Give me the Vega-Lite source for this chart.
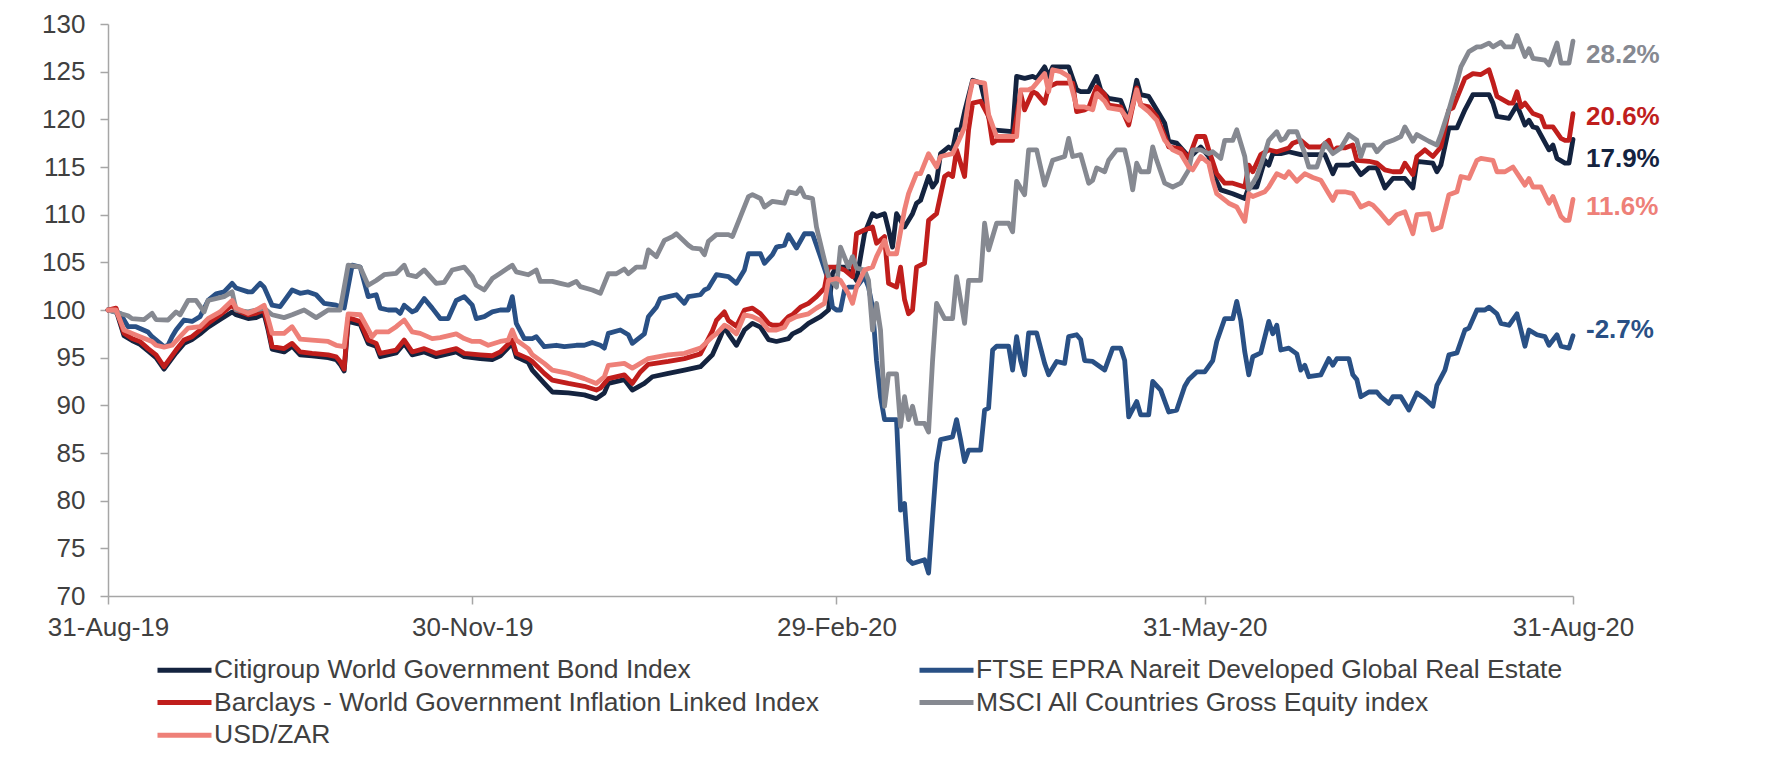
{
"$schema": "https://vega.github.io/schema/vega-lite/v6.json",
"width": 1465, "height": 572,
"autosize": {"type": "none"},
"padding": {"left": 108, "top": 24, "right": 195, "bottom": 167},
"background": "white",
"config": {"view": {"stroke": null}, "font": "Liberation Sans",
 "axis": {"domainColor": "#A6A6A6", "tickColor": "#A6A6A6", "domainWidth": 1.5, "tickWidth": 1.5, "tickSize": 8, "labelColor": "#404040", "labelFontSize": 26, "labelFont": "Liberation Sans", "grid": false, "title": null}},
"datasets": {
"names": [
 {"k": "A", "name": "Citigroup World Government Bond Index"},
 {"k": "B", "name": "FTSE EPRA Nareit Developed Global Real Estate"},
 {"k": "C", "name": "Barclays - World Government Inflation Linked Index"},
 {"k": "D", "name": "MSCI All Countries Gross Equity index"},
 {"k": "E", "name": "USD/ZAR"}
],
"labels": [
 {"k": "D", "d": "2020-08-31", "at": 126.8, "t": "28.2%"},
 {"k": "C", "d": "2020-08-31", "at": 120.2, "t": "20.6%"},
 {"k": "A", "d": "2020-08-31", "at": 115.8, "t": "17.9%"},
 {"k": "E", "d": "2020-08-31", "at": 110.8, "t": "11.6%"},
 {"k": "B", "d": "2020-08-31", "at": 97.9, "t": "-2.7%"}
],
"series": [
{"k":"A","d":"2019-08-31","v":100},{"k":"A","d":"2019-09-02","v":100},{"k":"A","d":"2019-09-04","v":97.3},{"k":"A","d":"2019-09-06","v":96.8},{"k":"A","d":"2019-09-08","v":96.4},{"k":"A","d":"2019-09-10","v":95.7},{"k":"A","d":"2019-09-12","v":95.0},{"k":"A","d":"2019-09-14","v":93.8},{"k":"A","d":"2019-09-17","v":95.5},{"k":"A","d":"2019-09-19","v":96.5},{"k":"A","d":"2019-09-21","v":96.9},{"k":"A","d":"2019-09-23","v":97.5},{"k":"A","d":"2019-09-25","v":98.2},{"k":"A","d":"2019-09-28","v":99.0},{"k":"A","d":"2019-10-01","v":99.8},{"k":"A","d":"2019-10-02","v":99.5},{"k":"A","d":"2019-10-05","v":99.1},{"k":"A","d":"2019-10-07","v":99.2},{"k":"A","d":"2019-10-09","v":99.6},{"k":"A","d":"2019-10-10","v":97.9},{"k":"A","d":"2019-10-11","v":95.9},{"k":"A","d":"2019-10-14","v":95.6},{"k":"A","d":"2019-10-16","v":96.2},{"k":"A","d":"2019-10-18","v":95.3},{"k":"A","d":"2019-10-21","v":95.2},{"k":"A","d":"2019-10-25","v":95.0},{"k":"A","d":"2019-10-27","v":94.8},{"k":"A","d":"2019-10-28","v":94.3},{"k":"A","d":"2019-10-29","v":93.6},{"k":"A","d":"2019-10-30","v":98.8},{"k":"A","d":"2019-11-02","v":98.5},{"k":"A","d":"2019-11-04","v":96.5},{"k":"A","d":"2019-11-06","v":96.2},{"k":"A","d":"2019-11-07","v":95.1},{"k":"A","d":"2019-11-11","v":95.5},{"k":"A","d":"2019-11-13","v":96.5},{"k":"A","d":"2019-11-15","v":95.3},{"k":"A","d":"2019-11-18","v":95.6},{"k":"A","d":"2019-11-21","v":95.1},{"k":"A","d":"2019-11-26","v":95.6},{"k":"A","d":"2019-11-28","v":95.1},{"k":"A","d":"2019-12-02","v":94.9},{"k":"A","d":"2019-12-05","v":94.8},{"k":"A","d":"2019-12-07","v":95.2},{"k":"A","d":"2019-12-10","v":96.5},{"k":"A","d":"2019-12-11","v":95.1},{"k":"A","d":"2019-12-14","v":94.5},{"k":"A","d":"2019-12-15","v":93.7},{"k":"A","d":"2019-12-18","v":92.3},{"k":"A","d":"2019-12-20","v":91.4},{"k":"A","d":"2019-12-24","v":91.3},{"k":"A","d":"2019-12-28","v":91.1},{"k":"A","d":"2019-12-31","v":90.7},{"k":"A","d":"2020-01-02","v":91.3},{"k":"A","d":"2020-01-03","v":92.3},{"k":"A","d":"2020-01-07","v":92.7},{"k":"A","d":"2020-01-09","v":91.6},{"k":"A","d":"2020-01-12","v":92.3},{"k":"A","d":"2020-01-14","v":93.0},{"k":"A","d":"2020-01-18","v":93.35},{"k":"A","d":"2020-01-22","v":93.7},{"k":"A","d":"2020-01-26","v":94.05},{"k":"A","d":"2020-01-29","v":95.3},{"k":"A","d":"2020-01-31","v":97.2},{"k":"A","d":"2020-02-01","v":98.2},{"k":"A","d":"2020-02-02","v":97.5},{"k":"A","d":"2020-02-04","v":96.3},{"k":"A","d":"2020-02-06","v":97.9},{"k":"A","d":"2020-02-08","v":98.6},{"k":"A","d":"2020-02-10","v":98.2},{"k":"A","d":"2020-02-12","v":96.9},{"k":"A","d":"2020-02-14","v":96.7},{"k":"A","d":"2020-02-17","v":97.0},{"k":"A","d":"2020-02-18","v":97.5},{"k":"A","d":"2020-02-20","v":97.9},{"k":"A","d":"2020-02-22","v":98.6},{"k":"A","d":"2020-02-25","v":99.3},{"k":"A","d":"2020-02-27","v":100.0},{"k":"A","d":"2020-02-28","v":103.8},{"k":"A","d":"2020-02-29","v":104.5},{"k":"A","d":"2020-03-02","v":104.5},{"k":"A","d":"2020-03-04","v":103.8},{"k":"A","d":"2020-03-05","v":103.1},{"k":"A","d":"2020-03-07","v":108.0},{"k":"A","d":"2020-03-09","v":110.1},{"k":"A","d":"2020-03-10","v":109.8},{"k":"A","d":"2020-03-12","v":110.1},{"k":"A","d":"2020-03-13","v":108.4},{"k":"A","d":"2020-03-14","v":106.6},{"k":"A","d":"2020-03-15","v":110.1},{"k":"A","d":"2020-03-17","v":108.7},{"k":"A","d":"2020-03-19","v":110.1},{"k":"A","d":"2020-03-20","v":111.2},{"k":"A","d":"2020-03-21","v":111.5},{"k":"A","d":"2020-03-23","v":114.0},{"k":"A","d":"2020-03-24","v":112.9},{"k":"A","d":"2020-03-25","v":113.5},{"k":"A","d":"2020-03-26","v":116.4},{"k":"A","d":"2020-03-28","v":117.1},{"k":"A","d":"2020-03-29","v":116.8},{"k":"A","d":"2020-03-30","v":118.9},{"k":"A","d":"2020-03-31","v":118.9},{"k":"A","d":"2020-04-01","v":120.8},{"k":"A","d":"2020-04-03","v":124.1},{"k":"A","d":"2020-04-05","v":123.8},{"k":"A","d":"2020-04-07","v":120.3},{"k":"A","d":"2020-04-08","v":118.9},{"k":"A","d":"2020-04-13","v":118.7},{"k":"A","d":"2020-04-14","v":124.5},{"k":"A","d":"2020-04-16","v":124.3},{"k":"A","d":"2020-04-18","v":124.5},{"k":"A","d":"2020-04-19","v":124.3},{"k":"A","d":"2020-04-21","v":125.5},{"k":"A","d":"2020-04-22","v":124.5},{"k":"A","d":"2020-04-23","v":125.5},{"k":"A","d":"2020-04-27","v":125.5},{"k":"A","d":"2020-04-29","v":123.1},{"k":"A","d":"2020-04-30","v":122.9},{"k":"A","d":"2020-05-02","v":122.9},{"k":"A","d":"2020-05-04","v":124.5},{"k":"A","d":"2020-05-05","v":123.1},{"k":"A","d":"2020-05-07","v":122.2},{"k":"A","d":"2020-05-10","v":122.0},{"k":"A","d":"2020-05-12","v":119.9},{"k":"A","d":"2020-05-14","v":124.1},{"k":"A","d":"2020-05-15","v":122.6},{"k":"A","d":"2020-05-17","v":122.4},{"k":"A","d":"2020-05-19","v":121.0},{"k":"A","d":"2020-05-21","v":119.6},{"k":"A","d":"2020-05-22","v":117.7},{"k":"A","d":"2020-05-24","v":117.5},{"k":"A","d":"2020-05-27","v":116.1},{"k":"A","d":"2020-05-28","v":116.3},{"k":"A","d":"2020-05-30","v":117.1},{"k":"A","d":"2020-06-01","v":116.1},{"k":"A","d":"2020-06-02","v":114.3},{"k":"A","d":"2020-06-04","v":112.6},{"k":"A","d":"2020-06-07","v":112.2},{"k":"A","d":"2020-06-10","v":111.7},{"k":"A","d":"2020-06-11","v":112.9},{"k":"A","d":"2020-06-13","v":112.9},{"k":"A","d":"2020-06-15","v":115.7},{"k":"A","d":"2020-06-16","v":115.2},{"k":"A","d":"2020-06-17","v":116.4},{"k":"A","d":"2020-06-19","v":116.4},{"k":"A","d":"2020-06-21","v":116.6},{"k":"A","d":"2020-06-24","v":116.3},{"k":"A","d":"2020-06-28","v":116.3},{"k":"A","d":"2020-06-30","v":116.3},{"k":"A","d":"2020-07-02","v":114.3},{"k":"A","d":"2020-07-03","v":115.2},{"k":"A","d":"2020-07-06","v":115.2},{"k":"A","d":"2020-07-07","v":115.4},{"k":"A","d":"2020-07-09","v":114.2},{"k":"A","d":"2020-07-11","v":114.9},{"k":"A","d":"2020-07-13","v":114.9},{"k":"A","d":"2020-07-15","v":112.8},{"k":"A","d":"2020-07-17","v":113.8},{"k":"A","d":"2020-07-20","v":113.8},{"k":"A","d":"2020-07-22","v":112.8},{"k":"A","d":"2020-07-23","v":115.6},{"k":"A","d":"2020-07-27","v":115.4},{"k":"A","d":"2020-07-28","v":114.5},{"k":"A","d":"2020-07-29","v":115.2},{"k":"A","d":"2020-07-31","v":119.1},{"k":"A","d":"2020-08-02","v":119.1},{"k":"A","d":"2020-08-04","v":121.0},{"k":"A","d":"2020-08-06","v":122.6},{"k":"A","d":"2020-08-10","v":122.6},{"k":"A","d":"2020-08-11","v":121.7},{"k":"A","d":"2020-08-12","v":120.3},{"k":"A","d":"2020-08-15","v":120.1},{"k":"A","d":"2020-08-17","v":121.5},{"k":"A","d":"2020-08-19","v":119.4},{"k":"A","d":"2020-08-20","v":119.9},{"k":"A","d":"2020-08-21","v":119.2},{"k":"A","d":"2020-08-22","v":119.1},{"k":"A","d":"2020-08-25","v":116.8},{"k":"A","d":"2020-08-26","v":117.3},{"k":"A","d":"2020-08-27","v":115.9},{"k":"A","d":"2020-08-29","v":115.4},{"k":"A","d":"2020-08-30","v":115.4},{"k":"A","d":"2020-08-31","v":117.9},
{"k":"B","d":"2019-08-31","v":100},{"k":"B","d":"2019-09-03","v":99.65},{"k":"B","d":"2019-09-05","v":98.25},{"k":"B","d":"2019-09-07","v":98.25},{"k":"B","d":"2019-09-10","v":97.7},{"k":"B","d":"2019-09-11","v":97.2},{"k":"B","d":"2019-09-14","v":96.15},{"k":"B","d":"2019-09-15","v":96.3},{"k":"B","d":"2019-09-16","v":97.2},{"k":"B","d":"2019-09-17","v":97.9},{"k":"B","d":"2019-09-19","v":98.95},{"k":"B","d":"2019-09-21","v":98.8},{"k":"B","d":"2019-09-23","v":99.3},{"k":"B","d":"2019-09-25","v":101.0},{"k":"B","d":"2019-09-27","v":101.7},{"k":"B","d":"2019-09-29","v":101.9},{"k":"B","d":"2019-10-01","v":102.8},{"k":"B","d":"2019-10-02","v":102.3},{"k":"B","d":"2019-10-05","v":101.9},{"k":"B","d":"2019-10-06","v":101.9},{"k":"B","d":"2019-10-08","v":102.8},{"k":"B","d":"2019-10-09","v":102.4},{"k":"B","d":"2019-10-11","v":100.5},{"k":"B","d":"2019-10-13","v":100.35},{"k":"B","d":"2019-10-16","v":102.1},{"k":"B","d":"2019-10-18","v":101.75},{"k":"B","d":"2019-10-20","v":101.9},{"k":"B","d":"2019-10-22","v":101.6},{"k":"B","d":"2019-10-24","v":100.7},{"k":"B","d":"2019-10-27","v":100.5},{"k":"B","d":"2019-10-29","v":100.2},{"k":"B","d":"2019-10-31","v":104.7},{"k":"B","d":"2019-11-02","v":104.5},{"k":"B","d":"2019-11-04","v":101.4},{"k":"B","d":"2019-11-06","v":101.6},{"k":"B","d":"2019-11-07","v":100.2},{"k":"B","d":"2019-11-09","v":100.0},{"k":"B","d":"2019-11-11","v":100.0},{"k":"B","d":"2019-11-12","v":99.65},{"k":"B","d":"2019-11-13","v":100.5},{"k":"B","d":"2019-11-15","v":99.8},{"k":"B","d":"2019-11-16","v":100.0},{"k":"B","d":"2019-11-18","v":101.2},{"k":"B","d":"2019-11-20","v":100.2},{"k":"B","d":"2019-11-22","v":99.1},{"k":"B","d":"2019-11-24","v":99.1},{"k":"B","d":"2019-11-26","v":101.0},{"k":"B","d":"2019-11-28","v":101.4},{"k":"B","d":"2019-11-30","v":100.5},{"k":"B","d":"2019-12-01","v":99.1},{"k":"B","d":"2019-12-03","v":99.3},{"k":"B","d":"2019-12-05","v":99.8},{"k":"B","d":"2019-12-07","v":100.0},{"k":"B","d":"2019-12-09","v":100.0},{"k":"B","d":"2019-12-10","v":101.4},{"k":"B","d":"2019-12-11","v":98.6},{"k":"B","d":"2019-12-13","v":97.0},{"k":"B","d":"2019-12-15","v":97.0},{"k":"B","d":"2019-12-16","v":97.2},{"k":"B","d":"2019-12-18","v":96.15},{"k":"B","d":"2019-12-21","v":96.3},{"k":"B","d":"2019-12-23","v":96.15},{"k":"B","d":"2019-12-26","v":96.3},{"k":"B","d":"2019-12-28","v":96.3},{"k":"B","d":"2019-12-30","v":96.6},{"k":"B","d":"2020-01-01","v":96.3},{"k":"B","d":"2020-01-02","v":96.0},{"k":"B","d":"2020-01-03","v":97.55},{"k":"B","d":"2020-01-06","v":97.9},{"k":"B","d":"2020-01-08","v":97.4},{"k":"B","d":"2020-01-09","v":96.5},{"k":"B","d":"2020-01-12","v":97.5},{"k":"B","d":"2020-01-13","v":99.3},{"k":"B","d":"2020-01-15","v":100.3},{"k":"B","d":"2020-01-16","v":101.2},{"k":"B","d":"2020-01-18","v":101.4},{"k":"B","d":"2020-01-20","v":101.6},{"k":"B","d":"2020-01-22","v":100.7},{"k":"B","d":"2020-01-23","v":101.4},{"k":"B","d":"2020-01-26","v":101.6},{"k":"B","d":"2020-01-27","v":102.1},{"k":"B","d":"2020-01-28","v":102.3},{"k":"B","d":"2020-01-30","v":103.7},{"k":"B","d":"2020-02-02","v":103.5},{"k":"B","d":"2020-02-04","v":102.8},{"k":"B","d":"2020-02-06","v":104.2},{"k":"B","d":"2020-02-07","v":105.9},{"k":"B","d":"2020-02-10","v":105.9},{"k":"B","d":"2020-02-11","v":104.9},{"k":"B","d":"2020-02-13","v":105.8},{"k":"B","d":"2020-02-14","v":106.6},{"k":"B","d":"2020-02-16","v":106.8},{"k":"B","d":"2020-02-17","v":107.9},{"k":"B","d":"2020-02-19","v":106.5},{"k":"B","d":"2020-02-21","v":108.0},{"k":"B","d":"2020-02-23","v":108.0},{"k":"B","d":"2020-02-25","v":105.6},{"k":"B","d":"2020-02-27","v":103.1},{"k":"B","d":"2020-02-28","v":100.3},{"k":"B","d":"2020-02-29","v":100.0},{"k":"B","d":"2020-03-01","v":100.0},{"k":"B","d":"2020-03-02","v":102.1},{"k":"B","d":"2020-03-03","v":102.4},{"k":"B","d":"2020-03-05","v":102.4},{"k":"B","d":"2020-03-07","v":103.5},{"k":"B","d":"2020-03-08","v":102.4},{"k":"B","d":"2020-03-09","v":100.3},{"k":"B","d":"2020-03-10","v":94.7},{"k":"B","d":"2020-03-11","v":90.9},{"k":"B","d":"2020-03-12","v":88.5},{"k":"B","d":"2020-03-15","v":88.5},{"k":"B","d":"2020-03-16","v":79.0},{"k":"B","d":"2020-03-17","v":79.7},{"k":"B","d":"2020-03-18","v":73.8},{"k":"B","d":"2020-03-19","v":73.4},{"k":"B","d":"2020-03-22","v":73.8},{"k":"B","d":"2020-03-23","v":72.4},{"k":"B","d":"2020-03-24","v":78.3},{"k":"B","d":"2020-03-25","v":83.9},{"k":"B","d":"2020-03-26","v":86.4},{"k":"B","d":"2020-03-29","v":86.7},{"k":"B","d":"2020-03-30","v":88.5},{"k":"B","d":"2020-03-31","v":86.4},{"k":"B","d":"2020-04-01","v":84.1},{"k":"B","d":"2020-04-02","v":85.3},{"k":"B","d":"2020-04-05","v":85.3},{"k":"B","d":"2020-04-06","v":89.5},{"k":"B","d":"2020-04-07","v":89.7},{"k":"B","d":"2020-04-08","v":95.8},{"k":"B","d":"2020-04-09","v":96.2},{"k":"B","d":"2020-04-12","v":96.2},{"k":"B","d":"2020-04-13","v":93.7},{"k":"B","d":"2020-04-14","v":97.2},{"k":"B","d":"2020-04-15","v":94.7},{"k":"B","d":"2020-04-16","v":93.2},{"k":"B","d":"2020-04-17","v":97.6},{"k":"B","d":"2020-04-19","v":97.6},{"k":"B","d":"2020-04-21","v":94.4},{"k":"B","d":"2020-04-22","v":93.2},{"k":"B","d":"2020-04-24","v":94.6},{"k":"B","d":"2020-04-26","v":94.4},{"k":"B","d":"2020-04-27","v":97.2},{"k":"B","d":"2020-04-29","v":97.4},{"k":"B","d":"2020-04-30","v":96.9},{"k":"B","d":"2020-05-01","v":94.7},{"k":"B","d":"2020-05-03","v":94.6},{"k":"B","d":"2020-05-06","v":93.7},{"k":"B","d":"2020-05-08","v":96.0},{"k":"B","d":"2020-05-10","v":96.0},{"k":"B","d":"2020-05-11","v":94.7},{"k":"B","d":"2020-05-12","v":88.8},{"k":"B","d":"2020-05-14","v":90.4},{"k":"B","d":"2020-05-15","v":89.0},{"k":"B","d":"2020-05-17","v":89.0},{"k":"B","d":"2020-05-18","v":92.5},{"k":"B","d":"2020-05-20","v":91.6},{"k":"B","d":"2020-05-22","v":89.3},{"k":"B","d":"2020-05-24","v":89.5},{"k":"B","d":"2020-05-26","v":92.0},{"k":"B","d":"2020-05-27","v":92.7},{"k":"B","d":"2020-05-29","v":93.5},{"k":"B","d":"2020-05-31","v":93.5},{"k":"B","d":"2020-06-02","v":94.7},{"k":"B","d":"2020-06-03","v":96.7},{"k":"B","d":"2020-06-05","v":99.1},{"k":"B","d":"2020-06-07","v":99.1},{"k":"B","d":"2020-06-08","v":100.9},{"k":"B","d":"2020-06-09","v":98.9},{"k":"B","d":"2020-06-10","v":95.6},{"k":"B","d":"2020-06-11","v":93.2},{"k":"B","d":"2020-06-12","v":95.1},{"k":"B","d":"2020-06-14","v":95.5},{"k":"B","d":"2020-06-16","v":98.8},{"k":"B","d":"2020-06-17","v":97.5},{"k":"B","d":"2020-06-18","v":98.4},{"k":"B","d":"2020-06-19","v":95.8},{"k":"B","d":"2020-06-21","v":96.0},{"k":"B","d":"2020-06-23","v":95.4},{"k":"B","d":"2020-06-24","v":93.7},{"k":"B","d":"2020-06-25","v":94.2},{"k":"B","d":"2020-06-26","v":93.0},{"k":"B","d":"2020-06-29","v":93.2},{"k":"B","d":"2020-07-01","v":94.9},{"k":"B","d":"2020-07-02","v":94.2},{"k":"B","d":"2020-07-03","v":94.9},{"k":"B","d":"2020-07-06","v":94.9},{"k":"B","d":"2020-07-07","v":93.2},{"k":"B","d":"2020-07-08","v":92.7},{"k":"B","d":"2020-07-09","v":90.9},{"k":"B","d":"2020-07-11","v":91.4},{"k":"B","d":"2020-07-13","v":91.4},{"k":"B","d":"2020-07-14","v":90.9},{"k":"B","d":"2020-07-16","v":90.2},{"k":"B","d":"2020-07-17","v":90.9},{"k":"B","d":"2020-07-19","v":90.9},{"k":"B","d":"2020-07-21","v":89.5},{"k":"B","d":"2020-07-23","v":91.3},{"k":"B","d":"2020-07-25","v":90.7},{"k":"B","d":"2020-07-27","v":89.9},{"k":"B","d":"2020-07-28","v":92.1},{"k":"B","d":"2020-07-30","v":93.7},{"k":"B","d":"2020-07-31","v":95.3},{"k":"B","d":"2020-08-02","v":95.5},{"k":"B","d":"2020-08-04","v":97.9},{"k":"B","d":"2020-08-05","v":98.1},{"k":"B","d":"2020-08-07","v":100.0},{"k":"B","d":"2020-08-09","v":100.0},{"k":"B","d":"2020-08-10","v":100.3},{"k":"B","d":"2020-08-12","v":99.6},{"k":"B","d":"2020-08-13","v":98.6},{"k":"B","d":"2020-08-15","v":98.4},{"k":"B","d":"2020-08-17","v":99.6},{"k":"B","d":"2020-08-18","v":97.9},{"k":"B","d":"2020-08-19","v":96.2},{"k":"B","d":"2020-08-20","v":97.9},{"k":"B","d":"2020-08-22","v":97.4},{"k":"B","d":"2020-08-24","v":97.2},{"k":"B","d":"2020-08-25","v":96.3},{"k":"B","d":"2020-08-27","v":97.4},{"k":"B","d":"2020-08-28","v":96.2},{"k":"B","d":"2020-08-30","v":96.0},{"k":"B","d":"2020-08-31","v":97.3},
{"k":"C","d":"2019-08-31","v":100},{"k":"C","d":"2019-09-02","v":100.2},{"k":"C","d":"2019-09-04","v":97.55},{"k":"C","d":"2019-09-06","v":97.0},{"k":"C","d":"2019-09-08","v":96.7},{"k":"C","d":"2019-09-10","v":95.95},{"k":"C","d":"2019-09-12","v":95.3},{"k":"C","d":"2019-09-14","v":94.05},{"k":"C","d":"2019-09-17","v":95.8},{"k":"C","d":"2019-09-19","v":96.85},{"k":"C","d":"2019-09-21","v":97.2},{"k":"C","d":"2019-09-23","v":97.9},{"k":"C","d":"2019-09-25","v":98.6},{"k":"C","d":"2019-09-28","v":99.5},{"k":"C","d":"2019-10-01","v":100.5},{"k":"C","d":"2019-10-02","v":100.0},{"k":"C","d":"2019-10-05","v":99.5},{"k":"C","d":"2019-10-07","v":99.65},{"k":"C","d":"2019-10-09","v":100.0},{"k":"C","d":"2019-10-10","v":98.25},{"k":"C","d":"2019-10-11","v":96.15},{"k":"C","d":"2019-10-14","v":95.95},{"k":"C","d":"2019-10-16","v":96.5},{"k":"C","d":"2019-10-18","v":95.6},{"k":"C","d":"2019-10-21","v":95.45},{"k":"C","d":"2019-10-25","v":95.3},{"k":"C","d":"2019-10-27","v":95.1},{"k":"C","d":"2019-10-28","v":94.6},{"k":"C","d":"2019-10-29","v":93.8},{"k":"C","d":"2019-10-30","v":99.2},{"k":"C","d":"2019-11-02","v":98.8},{"k":"C","d":"2019-11-04","v":96.85},{"k":"C","d":"2019-11-06","v":96.5},{"k":"C","d":"2019-11-07","v":95.45},{"k":"C","d":"2019-11-11","v":95.8},{"k":"C","d":"2019-11-13","v":96.85},{"k":"C","d":"2019-11-15","v":95.6},{"k":"C","d":"2019-11-18","v":95.95},{"k":"C","d":"2019-11-21","v":95.45},{"k":"C","d":"2019-11-26","v":95.95},{"k":"C","d":"2019-11-28","v":95.45},{"k":"C","d":"2019-12-02","v":95.3},{"k":"C","d":"2019-12-05","v":95.2},{"k":"C","d":"2019-12-07","v":95.6},{"k":"C","d":"2019-12-10","v":96.85},{"k":"C","d":"2019-12-11","v":95.45},{"k":"C","d":"2019-12-14","v":94.9},{"k":"C","d":"2019-12-15","v":94.6},{"k":"C","d":"2019-12-18","v":93.35},{"k":"C","d":"2019-12-20","v":92.65},{"k":"C","d":"2019-12-24","v":92.3},{"k":"C","d":"2019-12-28","v":92.0},{"k":"C","d":"2019-12-31","v":91.6},{"k":"C","d":"2020-01-01","v":91.8},{"k":"C","d":"2020-01-03","v":92.8},{"k":"C","d":"2020-01-07","v":93.2},{"k":"C","d":"2020-01-09","v":92.3},{"k":"C","d":"2020-01-11","v":93.5},{"k":"C","d":"2020-01-13","v":94.3},{"k":"C","d":"2020-01-18","v":94.6},{"k":"C","d":"2020-01-22","v":94.9},{"k":"C","d":"2020-01-26","v":95.4},{"k":"C","d":"2020-01-28","v":97.0},{"k":"C","d":"2020-01-29","v":97.8},{"k":"C","d":"2020-01-30","v":98.9},{"k":"C","d":"2020-02-01","v":99.8},{"k":"C","d":"2020-02-02","v":98.9},{"k":"C","d":"2020-02-04","v":98.3},{"k":"C","d":"2020-02-06","v":100.0},{"k":"C","d":"2020-02-08","v":100.2},{"k":"C","d":"2020-02-10","v":99.6},{"k":"C","d":"2020-02-12","v":98.6},{"k":"C","d":"2020-02-13","v":98.4},{"k":"C","d":"2020-02-15","v":98.4},{"k":"C","d":"2020-02-17","v":99.3},{"k":"C","d":"2020-02-18","v":99.5},{"k":"C","d":"2020-02-20","v":100.3},{"k":"C","d":"2020-02-22","v":100.7},{"k":"C","d":"2020-02-24","v":101.4},{"k":"C","d":"2020-02-26","v":102.3},{"k":"C","d":"2020-02-27","v":104.5},{"k":"C","d":"2020-02-29","v":104.5},{"k":"C","d":"2020-03-02","v":104.2},{"k":"C","d":"2020-03-04","v":103.5},{"k":"C","d":"2020-03-05","v":108.0},{"k":"C","d":"2020-03-07","v":108.4},{"k":"C","d":"2020-03-09","v":108.7},{"k":"C","d":"2020-03-10","v":107.0},{"k":"C","d":"2020-03-12","v":107.7},{"k":"C","d":"2020-03-13","v":102.8},{"k":"C","d":"2020-03-15","v":102.4},{"k":"C","d":"2020-03-16","v":104.5},{"k":"C","d":"2020-03-17","v":101.1},{"k":"C","d":"2020-03-18","v":99.6},{"k":"C","d":"2020-03-19","v":100.0},{"k":"C","d":"2020-03-20","v":104.5},{"k":"C","d":"2020-03-22","v":104.9},{"k":"C","d":"2020-03-23","v":109.4},{"k":"C","d":"2020-03-25","v":110.1},{"k":"C","d":"2020-03-27","v":114.0},{"k":"C","d":"2020-03-28","v":114.3},{"k":"C","d":"2020-03-29","v":114.0},{"k":"C","d":"2020-03-30","v":116.8},{"k":"C","d":"2020-04-01","v":114.0},{"k":"C","d":"2020-04-02","v":118.9},{"k":"C","d":"2020-04-03","v":121.7},{"k":"C","d":"2020-04-05","v":121.9},{"k":"C","d":"2020-04-07","v":120.3},{"k":"C","d":"2020-04-08","v":117.5},{"k":"C","d":"2020-04-09","v":117.8},{"k":"C","d":"2020-04-13","v":117.8},{"k":"C","d":"2020-04-15","v":122.7},{"k":"C","d":"2020-04-16","v":121.0},{"k":"C","d":"2020-04-18","v":122.9},{"k":"C","d":"2020-04-19","v":122.7},{"k":"C","d":"2020-04-21","v":121.7},{"k":"C","d":"2020-04-22","v":123.4},{"k":"C","d":"2020-04-24","v":123.8},{"k":"C","d":"2020-04-28","v":123.8},{"k":"C","d":"2020-04-29","v":120.8},{"k":"C","d":"2020-05-01","v":121.0},{"k":"C","d":"2020-05-02","v":121.2},{"k":"C","d":"2020-05-04","v":123.4},{"k":"C","d":"2020-05-06","v":122.6},{"k":"C","d":"2020-05-07","v":121.5},{"k":"C","d":"2020-05-10","v":121.3},{"k":"C","d":"2020-05-12","v":119.4},{"k":"C","d":"2020-05-14","v":123.3},{"k":"C","d":"2020-05-15","v":121.5},{"k":"C","d":"2020-05-17","v":121.3},{"k":"C","d":"2020-05-19","v":120.3},{"k":"C","d":"2020-05-21","v":118.2},{"k":"C","d":"2020-05-22","v":117.1},{"k":"C","d":"2020-05-25","v":116.9},{"k":"C","d":"2020-05-27","v":115.9},{"k":"C","d":"2020-05-29","v":118.2},{"k":"C","d":"2020-05-31","v":118.2},{"k":"C","d":"2020-06-01","v":116.8},{"k":"C","d":"2020-06-03","v":114.3},{"k":"C","d":"2020-06-05","v":113.3},{"k":"C","d":"2020-06-07","v":113.3},{"k":"C","d":"2020-06-10","v":112.9},{"k":"C","d":"2020-06-11","v":115.2},{"k":"C","d":"2020-06-12","v":114.5},{"k":"C","d":"2020-06-14","v":116.3},{"k":"C","d":"2020-06-16","v":116.8},{"k":"C","d":"2020-06-18","v":116.6},{"k":"C","d":"2020-06-21","v":117.0},{"k":"C","d":"2020-06-22","v":117.5},{"k":"C","d":"2020-06-24","v":117.8},{"k":"C","d":"2020-06-26","v":117.1},{"k":"C","d":"2020-06-29","v":117.1},{"k":"C","d":"2020-07-01","v":117.8},{"k":"C","d":"2020-07-02","v":116.6},{"k":"C","d":"2020-07-03","v":117.0},{"k":"C","d":"2020-07-05","v":117.0},{"k":"C","d":"2020-07-07","v":117.3},{"k":"C","d":"2020-07-08","v":115.7},{"k":"C","d":"2020-07-11","v":115.6},{"k":"C","d":"2020-07-13","v":115.4},{"k":"C","d":"2020-07-15","v":114.7},{"k":"C","d":"2020-07-17","v":114.5},{"k":"C","d":"2020-07-19","v":114.5},{"k":"C","d":"2020-07-20","v":115.4},{"k":"C","d":"2020-07-22","v":114.2},{"k":"C","d":"2020-07-23","v":116.1},{"k":"C","d":"2020-07-25","v":116.8},{"k":"C","d":"2020-07-27","v":116.1},{"k":"C","d":"2020-07-29","v":117.1},{"k":"C","d":"2020-07-31","v":121.0},{"k":"C","d":"2020-08-01","v":121.2},{"k":"C","d":"2020-08-04","v":124.3},{"k":"C","d":"2020-08-06","v":124.8},{"k":"C","d":"2020-08-08","v":124.7},{"k":"C","d":"2020-08-10","v":125.2},{"k":"C","d":"2020-08-11","v":123.9},{"k":"C","d":"2020-08-12","v":122.4},{"k":"C","d":"2020-08-15","v":121.7},{"k":"C","d":"2020-08-16","v":121.7},{"k":"C","d":"2020-08-17","v":122.9},{"k":"C","d":"2020-08-18","v":121.3},{"k":"C","d":"2020-08-19","v":121.7},{"k":"C","d":"2020-08-21","v":120.6},{"k":"C","d":"2020-08-23","v":120.3},{"k":"C","d":"2020-08-24","v":119.2},{"k":"C","d":"2020-08-26","v":119.2},{"k":"C","d":"2020-08-28","v":118.0},{"k":"C","d":"2020-08-29","v":117.8},{"k":"C","d":"2020-08-30","v":117.8},{"k":"C","d":"2020-08-31","v":120.6},
{"k":"D","d":"2019-08-31","v":100},{"k":"D","d":"2019-09-05","v":99.4},{"k":"D","d":"2019-09-06","v":99.1},{"k":"D","d":"2019-09-09","v":99.0},{"k":"D","d":"2019-09-11","v":99.65},{"k":"D","d":"2019-09-12","v":99.0},{"k":"D","d":"2019-09-15","v":98.95},{"k":"D","d":"2019-09-17","v":99.8},{"k":"D","d":"2019-09-18","v":99.5},{"k":"D","d":"2019-09-20","v":101.0},{"k":"D","d":"2019-09-22","v":101.0},{"k":"D","d":"2019-09-24","v":99.8},{"k":"D","d":"2019-09-25","v":101.0},{"k":"D","d":"2019-09-29","v":101.4},{"k":"D","d":"2019-10-01","v":101.9},{"k":"D","d":"2019-10-02","v":100.0},{"k":"D","d":"2019-10-05","v":99.8},{"k":"D","d":"2019-10-07","v":100.0},{"k":"D","d":"2019-10-09","v":100.2},{"k":"D","d":"2019-10-11","v":99.5},{"k":"D","d":"2019-10-14","v":99.2},{"k":"D","d":"2019-10-16","v":99.5},{"k":"D","d":"2019-10-19","v":100.0},{"k":"D","d":"2019-10-22","v":99.2},{"k":"D","d":"2019-10-25","v":100.0},{"k":"D","d":"2019-10-28","v":100.0},{"k":"D","d":"2019-10-30","v":104.7},{"k":"D","d":"2019-11-02","v":104.5},{"k":"D","d":"2019-11-04","v":102.6},{"k":"D","d":"2019-11-06","v":103.1},{"k":"D","d":"2019-11-08","v":103.7},{"k":"D","d":"2019-11-11","v":103.85},{"k":"D","d":"2019-11-13","v":104.7},{"k":"D","d":"2019-11-14","v":103.7},{"k":"D","d":"2019-11-16","v":103.5},{"k":"D","d":"2019-11-18","v":104.2},{"k":"D","d":"2019-11-21","v":102.8},{"k":"D","d":"2019-11-23","v":102.9},{"k":"D","d":"2019-11-25","v":104.2},{"k":"D","d":"2019-11-28","v":104.5},{"k":"D","d":"2019-11-30","v":103.5},{"k":"D","d":"2019-12-01","v":102.6},{"k":"D","d":"2019-12-03","v":102.1},{"k":"D","d":"2019-12-05","v":103.3},{"k":"D","d":"2019-12-07","v":103.85},{"k":"D","d":"2019-12-10","v":104.7},{"k":"D","d":"2019-12-11","v":104.0},{"k":"D","d":"2019-12-14","v":103.7},{"k":"D","d":"2019-12-16","v":104.2},{"k":"D","d":"2019-12-17","v":103.0},{"k":"D","d":"2019-12-20","v":103.0},{"k":"D","d":"2019-12-22","v":102.8},{"k":"D","d":"2019-12-24","v":102.6},{"k":"D","d":"2019-12-26","v":103.0},{"k":"D","d":"2019-12-27","v":102.45},{"k":"D","d":"2019-12-30","v":102.1},{"k":"D","d":"2020-01-01","v":101.75},{"k":"D","d":"2020-01-03","v":103.8},{"k":"D","d":"2020-01-05","v":103.8},{"k":"D","d":"2020-01-07","v":104.3},{"k":"D","d":"2020-01-08","v":103.8},{"k":"D","d":"2020-01-10","v":104.5},{"k":"D","d":"2020-01-12","v":104.5},{"k":"D","d":"2020-01-13","v":106.3},{"k":"D","d":"2020-01-15","v":105.6},{"k":"D","d":"2020-01-17","v":107.3},{"k":"D","d":"2020-01-19","v":107.7},{"k":"D","d":"2020-01-20","v":108.0},{"k":"D","d":"2020-01-23","v":106.8},{"k":"D","d":"2020-01-24","v":106.5},{"k":"D","d":"2020-01-26","v":106.4},{"k":"D","d":"2020-01-27","v":105.8},{"k":"D","d":"2020-01-28","v":107.2},{"k":"D","d":"2020-01-30","v":107.9},{"k":"D","d":"2020-02-02","v":107.9},{"k":"D","d":"2020-02-03","v":107.7},{"k":"D","d":"2020-02-05","v":109.8},{"k":"D","d":"2020-02-07","v":111.9},{"k":"D","d":"2020-02-08","v":112.1},{"k":"D","d":"2020-02-10","v":111.7},{"k":"D","d":"2020-02-11","v":110.8},{"k":"D","d":"2020-02-13","v":111.4},{"k":"D","d":"2020-02-16","v":111.2},{"k":"D","d":"2020-02-17","v":112.4},{"k":"D","d":"2020-02-19","v":112.2},{"k":"D","d":"2020-02-20","v":112.8},{"k":"D","d":"2020-02-21","v":111.9},{"k":"D","d":"2020-02-23","v":111.7},{"k":"D","d":"2020-02-24","v":108.7},{"k":"D","d":"2020-02-26","v":105.2},{"k":"D","d":"2020-02-27","v":103.5},{"k":"D","d":"2020-02-29","v":102.4},{"k":"D","d":"2020-03-01","v":106.6},{"k":"D","d":"2020-03-03","v":104.5},{"k":"D","d":"2020-03-04","v":105.6},{"k":"D","d":"2020-03-05","v":104.4},{"k":"D","d":"2020-03-07","v":104.2},{"k":"D","d":"2020-03-08","v":103.1},{"k":"D","d":"2020-03-09","v":97.9},{"k":"D","d":"2020-03-10","v":100.7},{"k":"D","d":"2020-03-11","v":97.9},{"k":"D","d":"2020-03-12","v":89.9},{"k":"D","d":"2020-03-13","v":93.3},{"k":"D","d":"2020-03-15","v":93.3},{"k":"D","d":"2020-03-16","v":87.8},{"k":"D","d":"2020-03-17","v":90.9},{"k":"D","d":"2020-03-18","v":88.5},{"k":"D","d":"2020-03-19","v":89.9},{"k":"D","d":"2020-03-20","v":88.1},{"k":"D","d":"2020-03-22","v":88.1},{"k":"D","d":"2020-03-23","v":87.2},{"k":"D","d":"2020-03-24","v":94.7},{"k":"D","d":"2020-03-25","v":100.7},{"k":"D","d":"2020-03-27","v":99.1},{"k":"D","d":"2020-03-29","v":99.1},{"k":"D","d":"2020-03-30","v":103.5},{"k":"D","d":"2020-04-01","v":98.6},{"k":"D","d":"2020-04-02","v":103.1},{"k":"D","d":"2020-04-05","v":103.1},{"k":"D","d":"2020-04-06","v":109.1},{"k":"D","d":"2020-04-07","v":106.3},{"k":"D","d":"2020-04-09","v":109.1},{"k":"D","d":"2020-04-12","v":109.1},{"k":"D","d":"2020-04-13","v":108.2},{"k":"D","d":"2020-04-14","v":113.5},{"k":"D","d":"2020-04-16","v":112.1},{"k":"D","d":"2020-04-17","v":116.8},{"k":"D","d":"2020-04-19","v":116.8},{"k":"D","d":"2020-04-21","v":113.1},{"k":"D","d":"2020-04-23","v":115.7},{"k":"D","d":"2020-04-26","v":116.1},{"k":"D","d":"2020-04-27","v":118.0},{"k":"D","d":"2020-04-28","v":116.1},{"k":"D","d":"2020-04-30","v":116.3},{"k":"D","d":"2020-05-02","v":113.3},{"k":"D","d":"2020-05-03","v":113.6},{"k":"D","d":"2020-05-04","v":114.9},{"k":"D","d":"2020-05-06","v":114.5},{"k":"D","d":"2020-05-07","v":115.7},{"k":"D","d":"2020-05-09","v":116.8},{"k":"D","d":"2020-05-11","v":116.8},{"k":"D","d":"2020-05-12","v":115.0},{"k":"D","d":"2020-05-13","v":112.6},{"k":"D","d":"2020-05-14","v":115.4},{"k":"D","d":"2020-05-15","v":114.5},{"k":"D","d":"2020-05-17","v":114.5},{"k":"D","d":"2020-05-18","v":117.1},{"k":"D","d":"2020-05-19","v":115.7},{"k":"D","d":"2020-05-21","v":113.3},{"k":"D","d":"2020-05-23","v":112.9},{"k":"D","d":"2020-05-25","v":113.3},{"k":"D","d":"2020-05-27","v":114.7},{"k":"D","d":"2020-05-28","v":116.8},{"k":"D","d":"2020-05-30","v":116.8},{"k":"D","d":"2020-06-01","v":116.4},{"k":"D","d":"2020-06-02","v":116.6},{"k":"D","d":"2020-06-04","v":115.9},{"k":"D","d":"2020-06-05","v":117.8},{"k":"D","d":"2020-06-07","v":117.8},{"k":"D","d":"2020-06-08","v":118.9},{"k":"D","d":"2020-06-10","v":116.1},{"k":"D","d":"2020-06-11","v":112.6},{"k":"D","d":"2020-06-13","v":114.0},{"k":"D","d":"2020-06-15","v":116.4},{"k":"D","d":"2020-06-16","v":117.8},{"k":"D","d":"2020-06-18","v":118.7},{"k":"D","d":"2020-06-19","v":117.8},{"k":"D","d":"2020-06-20","v":118.0},{"k":"D","d":"2020-06-21","v":118.7},{"k":"D","d":"2020-06-23","v":118.7},{"k":"D","d":"2020-06-25","v":116.4},{"k":"D","d":"2020-06-26","v":115.0},{"k":"D","d":"2020-06-28","v":115.0},{"k":"D","d":"2020-06-30","v":117.5},{"k":"D","d":"2020-07-02","v":116.4},{"k":"D","d":"2020-07-04","v":117.0},{"k":"D","d":"2020-07-06","v":118.4},{"k":"D","d":"2020-07-08","v":117.8},{"k":"D","d":"2020-07-09","v":116.1},{"k":"D","d":"2020-07-10","v":117.3},{"k":"D","d":"2020-07-12","v":117.3},{"k":"D","d":"2020-07-13","v":116.6},{"k":"D","d":"2020-07-15","v":117.5},{"k":"D","d":"2020-07-17","v":117.8},{"k":"D","d":"2020-07-19","v":118.2},{"k":"D","d":"2020-07-20","v":119.2},{"k":"D","d":"2020-07-22","v":117.7},{"k":"D","d":"2020-07-23","v":118.4},{"k":"D","d":"2020-07-26","v":117.7},{"k":"D","d":"2020-07-28","v":117.3},{"k":"D","d":"2020-07-29","v":118.4},{"k":"D","d":"2020-07-31","v":121.0},{"k":"D","d":"2020-08-02","v":123.9},{"k":"D","d":"2020-08-03","v":125.5},{"k":"D","d":"2020-08-05","v":127.1},{"k":"D","d":"2020-08-07","v":127.6},{"k":"D","d":"2020-08-08","v":127.6},{"k":"D","d":"2020-08-10","v":128.0},{"k":"D","d":"2020-08-11","v":127.6},{"k":"D","d":"2020-08-13","v":128.1},{"k":"D","d":"2020-08-14","v":127.6},{"k":"D","d":"2020-08-16","v":127.6},{"k":"D","d":"2020-08-17","v":128.8},{"k":"D","d":"2020-08-19","v":126.6},{"k":"D","d":"2020-08-20","v":127.4},{"k":"D","d":"2020-08-21","v":126.4},{"k":"D","d":"2020-08-24","v":126.2},{"k":"D","d":"2020-08-25","v":125.7},{"k":"D","d":"2020-08-27","v":128.0},{"k":"D","d":"2020-08-28","v":125.9},{"k":"D","d":"2020-08-30","v":125.9},{"k":"D","d":"2020-08-31","v":128.2},
{"k":"E","d":"2019-08-31","v":100},{"k":"E","d":"2019-09-02","v":100},{"k":"E","d":"2019-09-04","v":97.9},{"k":"E","d":"2019-09-06","v":97.55},{"k":"E","d":"2019-09-08","v":97.2},{"k":"E","d":"2019-09-11","v":96.7},{"k":"E","d":"2019-09-12","v":96.3},{"k":"E","d":"2019-09-14","v":96.1},{"k":"E","d":"2019-09-16","v":96.3},{"k":"E","d":"2019-09-18","v":97.2},{"k":"E","d":"2019-09-20","v":98.1},{"k":"E","d":"2019-09-23","v":98.25},{"k":"E","d":"2019-09-25","v":99.1},{"k":"E","d":"2019-09-28","v":99.8},{"k":"E","d":"2019-10-01","v":101.0},{"k":"E","d":"2019-10-02","v":100.2},{"k":"E","d":"2019-10-05","v":99.65},{"k":"E","d":"2019-10-07","v":100.0},{"k":"E","d":"2019-10-09","v":100.5},{"k":"E","d":"2019-10-10","v":99.1},{"k":"E","d":"2019-10-11","v":97.55},{"k":"E","d":"2019-10-14","v":97.55},{"k":"E","d":"2019-10-16","v":98.25},{"k":"E","d":"2019-10-18","v":96.95},{"k":"E","d":"2019-10-21","v":96.85},{"k":"E","d":"2019-10-25","v":96.7},{"k":"E","d":"2019-10-27","v":96.3},{"k":"E","d":"2019-10-29","v":96.15},{"k":"E","d":"2019-10-30","v":99.6},{"k":"E","d":"2019-11-02","v":99.5},{"k":"E","d":"2019-11-05","v":97.2},{"k":"E","d":"2019-11-06","v":97.7},{"k":"E","d":"2019-11-09","v":97.7},{"k":"E","d":"2019-11-11","v":98.25},{"k":"E","d":"2019-11-13","v":98.95},{"k":"E","d":"2019-11-15","v":97.7},{"k":"E","d":"2019-11-17","v":97.55},{"k":"E","d":"2019-11-20","v":97.0},{"k":"E","d":"2019-11-22","v":97.1},{"k":"E","d":"2019-11-26","v":97.5},{"k":"E","d":"2019-11-28","v":97.0},{"k":"E","d":"2019-11-30","v":96.7},{"k":"E","d":"2019-12-02","v":96.7},{"k":"E","d":"2019-12-04","v":96.3},{"k":"E","d":"2019-12-07","v":96.7},{"k":"E","d":"2019-12-09","v":96.85},{"k":"E","d":"2019-12-10","v":97.9},{"k":"E","d":"2019-12-11","v":96.85},{"k":"E","d":"2019-12-14","v":95.95},{"k":"E","d":"2019-12-15","v":95.3},{"k":"E","d":"2019-12-18","v":94.4},{"k":"E","d":"2019-12-20","v":93.7},{"k":"E","d":"2019-12-24","v":93.35},{"k":"E","d":"2019-12-28","v":92.8},{"k":"E","d":"2019-12-31","v":92.3},{"k":"E","d":"2020-01-02","v":93.0},{"k":"E","d":"2020-01-03","v":94.2},{"k":"E","d":"2020-01-07","v":94.4},{"k":"E","d":"2020-01-09","v":93.9},{"k":"E","d":"2020-01-11","v":94.4},{"k":"E","d":"2020-01-13","v":94.9},{"k":"E","d":"2020-01-18","v":95.3},{"k":"E","d":"2020-01-22","v":95.45},{"k":"E","d":"2020-01-26","v":96.0},{"k":"E","d":"2020-01-29","v":97.2},{"k":"E","d":"2020-01-30","v":97.5},{"k":"E","d":"2020-02-01","v":98.4},{"k":"E","d":"2020-02-02","v":98.2},{"k":"E","d":"2020-02-04","v":97.5},{"k":"E","d":"2020-02-06","v":99.5},{"k":"E","d":"2020-02-08","v":99.3},{"k":"E","d":"2020-02-10","v":98.9},{"k":"E","d":"2020-02-12","v":97.9},{"k":"E","d":"2020-02-14","v":97.9},{"k":"E","d":"2020-02-16","v":98.2},{"k":"E","d":"2020-02-17","v":98.9},{"k":"E","d":"2020-02-19","v":99.3},{"k":"E","d":"2020-02-22","v":99.6},{"k":"E","d":"2020-02-24","v":100.2},{"k":"E","d":"2020-02-26","v":100.7},{"k":"E","d":"2020-02-27","v":103.1},{"k":"E","d":"2020-02-29","v":103.3},{"k":"E","d":"2020-03-01","v":103.1},{"k":"E","d":"2020-03-03","v":101.7},{"k":"E","d":"2020-03-04","v":100.7},{"k":"E","d":"2020-03-05","v":102.4},{"k":"E","d":"2020-03-07","v":104.2},{"k":"E","d":"2020-03-09","v":104.5},{"k":"E","d":"2020-03-10","v":105.6},{"k":"E","d":"2020-03-12","v":107.3},{"k":"E","d":"2020-03-13","v":105.9},{"k":"E","d":"2020-03-15","v":105.9},{"k":"E","d":"2020-03-17","v":110.5},{"k":"E","d":"2020-03-18","v":112.2},{"k":"E","d":"2020-03-20","v":114.3},{"k":"E","d":"2020-03-21","v":114.3},{"k":"E","d":"2020-03-23","v":116.4},{"k":"E","d":"2020-03-25","v":115.0},{"k":"E","d":"2020-03-26","v":116.1},{"k":"E","d":"2020-03-29","v":116.4},{"k":"E","d":"2020-03-31","v":118.2},{"k":"E","d":"2020-04-01","v":119.2},{"k":"E","d":"2020-04-02","v":122.0},{"k":"E","d":"2020-04-03","v":124.0},{"k":"E","d":"2020-04-06","v":123.8},{"k":"E","d":"2020-04-07","v":120.5},{"k":"E","d":"2020-04-09","v":118.2},{"k":"E","d":"2020-04-14","v":118.2},{"k":"E","d":"2020-04-15","v":123.1},{"k":"E","d":"2020-04-17","v":123.1},{"k":"E","d":"2020-04-18","v":123.3},{"k":"E","d":"2020-04-19","v":123.8},{"k":"E","d":"2020-04-21","v":124.8},{"k":"E","d":"2020-04-22","v":122.9},{"k":"E","d":"2020-04-23","v":125.2},{"k":"E","d":"2020-04-25","v":125.0},{"k":"E","d":"2020-04-27","v":124.5},{"k":"E","d":"2020-04-29","v":121.3},{"k":"E","d":"2020-05-01","v":121.3},{"k":"E","d":"2020-05-03","v":121.0},{"k":"E","d":"2020-05-04","v":122.7},{"k":"E","d":"2020-05-06","v":121.9},{"k":"E","d":"2020-05-07","v":121.2},{"k":"E","d":"2020-05-10","v":121.0},{"k":"E","d":"2020-05-12","v":119.9},{"k":"E","d":"2020-05-14","v":123.1},{"k":"E","d":"2020-05-15","v":121.5},{"k":"E","d":"2020-05-17","v":120.8},{"k":"E","d":"2020-05-19","v":119.9},{"k":"E","d":"2020-05-21","v":117.8},{"k":"E","d":"2020-05-23","v":116.8},{"k":"E","d":"2020-05-25","v":116.4},{"k":"E","d":"2020-05-27","v":115.0},{"k":"E","d":"2020-05-28","v":114.7},{"k":"E","d":"2020-05-30","v":116.1},{"k":"E","d":"2020-06-01","v":115.4},{"k":"E","d":"2020-06-02","v":113.6},{"k":"E","d":"2020-06-03","v":112.2},{"k":"E","d":"2020-06-06","v":111.2},{"k":"E","d":"2020-06-08","v":110.8},{"k":"E","d":"2020-06-10","v":109.3},{"k":"E","d":"2020-06-11","v":112.2},{"k":"E","d":"2020-06-12","v":111.9},{"k":"E","d":"2020-06-15","v":112.4},{"k":"E","d":"2020-06-16","v":112.9},{"k":"E","d":"2020-06-18","v":114.3},{"k":"E","d":"2020-06-20","v":113.9},{"k":"E","d":"2020-06-21","v":114.5},{"k":"E","d":"2020-06-23","v":113.5},{"k":"E","d":"2020-06-25","v":114.3},{"k":"E","d":"2020-06-27","v":113.9},{"k":"E","d":"2020-06-29","v":113.6},{"k":"E","d":"2020-07-01","v":112.2},{"k":"E","d":"2020-07-02","v":111.5},{"k":"E","d":"2020-07-03","v":112.4},{"k":"E","d":"2020-07-05","v":112.4},{"k":"E","d":"2020-07-07","v":112.2},{"k":"E","d":"2020-07-09","v":110.8},{"k":"E","d":"2020-07-11","v":111.2},{"k":"E","d":"2020-07-12","v":111.0},{"k":"E","d":"2020-07-14","v":110.1},{"k":"E","d":"2020-07-16","v":109.1},{"k":"E","d":"2020-07-18","v":110.0},{"k":"E","d":"2020-07-20","v":110.3},{"k":"E","d":"2020-07-22","v":108.0},{"k":"E","d":"2020-07-23","v":110.0},{"k":"E","d":"2020-07-26","v":110.1},{"k":"E","d":"2020-07-27","v":108.4},{"k":"E","d":"2020-07-29","v":108.7},{"k":"E","d":"2020-07-31","v":112.1},{"k":"E","d":"2020-08-02","v":112.4},{"k":"E","d":"2020-08-03","v":114.0},{"k":"E","d":"2020-08-05","v":113.8},{"k":"E","d":"2020-08-07","v":115.7},{"k":"E","d":"2020-08-08","v":115.9},{"k":"E","d":"2020-08-11","v":115.7},{"k":"E","d":"2020-08-12","v":114.5},{"k":"E","d":"2020-08-14","v":114.5},{"k":"E","d":"2020-08-16","v":115.0},{"k":"E","d":"2020-08-19","v":113.1},{"k":"E","d":"2020-08-20","v":113.8},{"k":"E","d":"2020-08-21","v":112.9},{"k":"E","d":"2020-08-23","v":112.9},{"k":"E","d":"2020-08-25","v":111.2},{"k":"E","d":"2020-08-26","v":111.9},{"k":"E","d":"2020-08-28","v":109.8},{"k":"E","d":"2020-08-29","v":109.4},{"k":"E","d":"2020-08-30","v":109.4},{"k":"E","d":"2020-08-31","v":111.6}
]
},
"encoding": {
 "x": {"field": "d", "type": "temporal",
  "scale": {"type": "utc", "domain": [{"year": 2019, "month": "Aug", "date": 31, "utc": true}, {"year": 2020, "month": "Aug", "date": 31, "utc": true}]},
  "axis": {"values": [{"year": 2019, "month": "Aug", "date": 31, "utc": true}, {"year": 2019, "month": "Nov", "date": 30, "utc": true}, {"year": 2020, "month": "Feb", "date": 29, "utc": true}, {"year": 2020, "month": "May", "date": 31, "utc": true}, {"year": 2020, "month": "Aug", "date": 31, "utc": true}],
   "labelExpr": "utcFormat(datum.value, '%d-%b-%y')", "labelFlush": false, "labelOverlap": false, "labelPadding": 10}}
},
"layer": [
{
 "data": {"name": "series"},
 "transform": [{"lookup": "k", "from": {"data": {"name": "names"}, "key": "k", "fields": ["name"]}}],
 "mark": {"type": "line", "strokeWidth": 4.8, "strokeJoin": "round", "strokeCap": "round"},
 "encoding": {
  "y": {"field": "v", "type": "quantitative",
   "scale": {"domain": [70, 130], "nice": false, "zero": false},
   "axis": {"values": [70, 75, 80, 85, 90, 95, 100, 105, 110, 115, 120, 125, 130], "labelPadding": 15}},
  "color": {"field": "name", "type": "nominal",
   "scale": {"domain": ["Citigroup World Government Bond Index", "FTSE EPRA Nareit Developed Global Real Estate", "Barclays - World Government Inflation Linked Index", "MSCI All Countries Gross Equity index", "USD/ZAR"],
    "range": ["#14233F", "#295085", "#C01E1C", "#868991", "#EE8078"]},
   "legend": {"orient": "none", "legendX": 47, "legendY": 630, "direction": "horizontal", "columns": 2, "columnPadding": 90, "rowPadding": 2.6, "symbolType": "M-1,0H3", "symbolSize": 729, "symbolStrokeWidth": 5, "labelFontSize": 26.5, "labelFont": "Liberation Sans", "labelColor": "#404040", "labelOffset": 27, "labelLimit": 1200, "title": null}}
 }
},
{
 "data": {"name": "labels"},
 "transform": [{"lookup": "k", "from": {"data": {"name": "names"}, "key": "k", "fields": ["name"]}}],
 "mark": {"type": "text", "align": "left", "baseline": "middle", "dx": 13, "fontSize": 26, "fontWeight": "bold", "font": "Liberation Sans"},
 "encoding": {
  "y": {"field": "at", "type": "quantitative"},
  "text": {"field": "t"},
  "color": {"field": "name", "type": "nominal", "legend": null}
 }
}
]
}
